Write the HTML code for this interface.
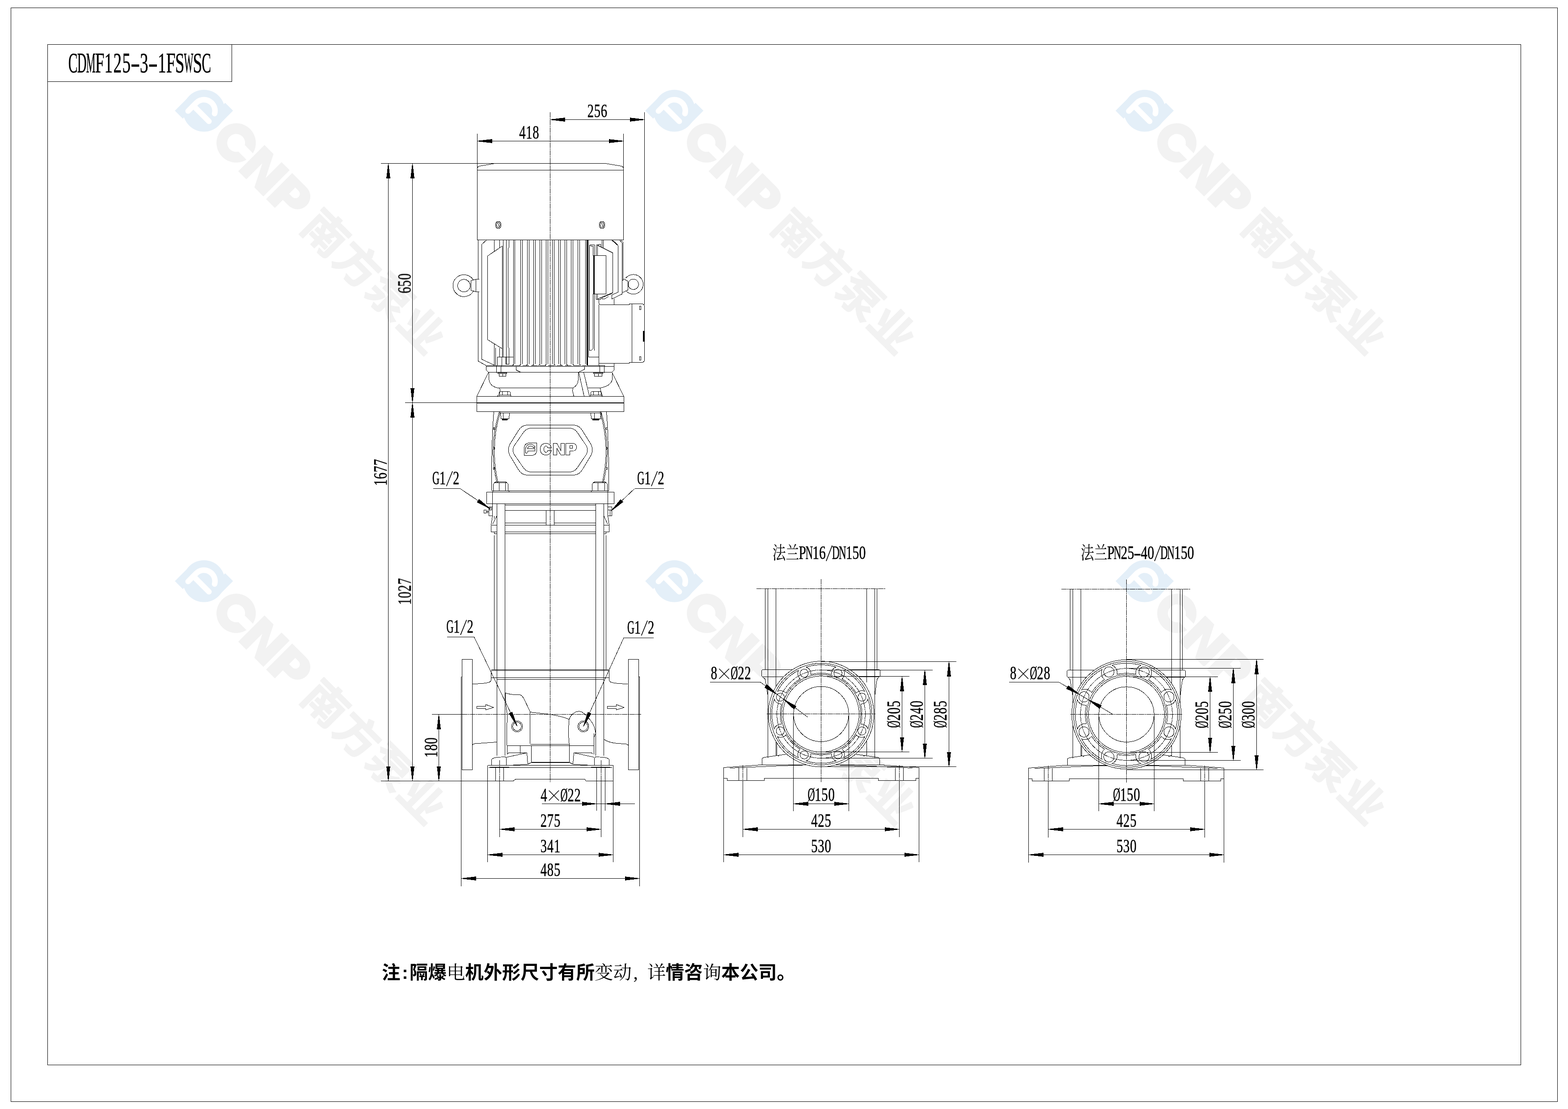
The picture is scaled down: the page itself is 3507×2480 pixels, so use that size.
<!DOCTYPE html>
<html lang="zh"><head><meta charset="utf-8"><title>CDMF125-3-1FSWSC</title>
<style>
html,body{margin:0;padding:0;background:#fff;}
body{width:3507px;height:2480px;overflow:hidden;}
svg{display:block;}
text{font-family:"Liberation Serif",serif;fill:#000;stroke:#000;stroke-width:0.45px;vector-effect:non-scaling-stroke;}
</style></head><body>
<svg width="3507" height="2480" viewBox="0 0 3507 2480">
<rect width="3507" height="2480" fill="#fff"/>
<g id="watermark">
<defs><g id="wmk"><path fill="#e4eff8" d="M-46 46V0H-21V46ZM46-46V0H21V-46Z"/><circle r="46.9" fill="#e4eff8"/><path fill="none" stroke="#fff" stroke-width="12.4" stroke-linecap="round" stroke-linejoin="round" d="M-24.6 25.6V0A24.6 24.6 0 0 1 21.3-12.3M-24.6 8.9H24.6"/><path fill="#f2f2f2" d="M144.6 10.2A44.0 44.0 0 1 1 144.6 -10.2H119.0A20.0 20.0 0 1 0 119.0 10.2Z"/><path fill="#f2f2f2" d="M150 41.5V-41.5H178.5L204 9V-41.5H229.4V41.5H201L175.5-9V41.5Z"/><path fill="#f2f2f2" fill-rule="evenodd" d="M238 41.5V-41H283.6A28.6 28.6 0 0 1 283.6 16.2H265.8V41.5ZM265.8-23H276.2A9.8 9.8 0 0 1 276.2-3.4H265.8Z"/><text x="336.3 437.9 539.5 641.1" y="36.4" transform="translate(0 36.4) scale(1 0.969) translate(0 -36.4)" style="font-family:'Liberation Sans','Noto Sans CJK SC',sans-serif;font-weight:bold;font-size:99.6px;fill:#f2f2f2;stroke:#f2f2f2;stroke-width:2.2px;stroke-linejoin:round;vector-effect:none;">南方泵业</text></g></defs>
<use href="#wmk" transform="translate(456.2 247.6) rotate(45)"/>
<use href="#wmk" transform="translate(1508.2 247.6) rotate(45)"/>
<use href="#wmk" transform="translate(2560.2 247.6) rotate(45)"/>
<use href="#wmk" transform="translate(456.2 1299.6) rotate(45)"/>
<use href="#wmk" transform="translate(1508.2 1299.6) rotate(45)"/>
<use href="#wmk" transform="translate(2560.2 1299.6) rotate(45)"/>
</g>
<g id="lines" fill="none" stroke="#000" stroke-width="1" shape-rendering="crispEdges">
<path d="M24.5 17.5H3483.5V2463.5H24.5Z"/>
<path d="M106.5 99.5H3401.5V2381.5H106.5Z"/>
<path d="M106.5 182.5L518.5 182.5"/>
<path d="M518.5 99.5L518.5 182.5"/>
<path d="M1230.5 251L1230.5 1749" stroke-dasharray="12 1 3 1"/>
<path d="M1067.5 536.5V377Q1067.5 373 1072.5 371.5L1107 365.5H1354L1389.5 371.5Q1394.5 373 1394.5 377V536.5Z"/>
<path d="M1067.5 380.5L1394.5 380.5"/>
<ellipse cx="1114.5" cy="503" rx="6.3" ry="8"/>
<ellipse cx="1114.5" cy="503" rx="4" ry="5.6"/>
<path d="M1113.5 499L1116.5 507"/>
<ellipse cx="1346.5" cy="503" rx="6.3" ry="8"/>
<ellipse cx="1346.5" cy="503" rx="4" ry="5.6"/>
<path d="M1345.5 499L1348.5 507"/>
<path d="M1069.5 536.5L1069.5 624.5"/>
<path d="M1069.5 652.5L1069.5 807.5"/>
<path d="M1069.5 807.5L1087.5 817.5"/>
<path d="M1088.5 536.5L1077.5 546.5L1077.5 803.5L1105.5 816.5"/>
<path d="M1124.5 549.5L1090.5 572.5L1090.5 759.5L1124.5 780.5"/>
<path d="M1123.5 549.5L1123.5 798.5"/>
<path d="M1125.5 536.5L1125.5 798.5"/>
<path d="M1105.5 536.5L1105.5 562.5"/>
<path d="M1117.5 536.5L1117.5 553.5"/>
<path d="M1105.5 768.5L1105.5 817.5"/>
<path d="M1108.5 777.5L1108.5 817.5"/>
<path d="M1117.5 777.5L1117.5 798.5"/>
<path d="M1132.5 536.5L1132.5 814.5"/>
<path d="M1138.5 536.5L1138.5 553.5L1136.5 555.5L1136.5 776.5L1138.5 778.5L1138.5 814.5"/>
<path d="M1132.5 814.5L1138.5 814.5"/>
<path d="M1112.5 817.5L1112.5 798.5L1148.5 798.5"/>
<path d="M1122.5 798.5L1122.5 817.5"/>
<path d="M1131.5 798.5L1131.5 814.5"/>
<path d="M1138.5 798.5L1138.5 814.5"/>
<path d="M1225.5 536.5L1225.5 813.5"/>
<path d="M1221.5 536.5L1221.5 813.5"/>
<path d="M1221.5 813.5Q1221.5 817 1217.5 817.5"/>
<path d="M1235.5 536.5L1235.5 813.5"/>
<path d="M1239.5 536.5L1239.5 813.5"/>
<path d="M1239.5 813.5Q1239.5 817 1243.5 817.5"/>
<path d="M1211.5 536.5L1211.5 813.5"/>
<path d="M1207.5 536.5L1207.5 813.5"/>
<path d="M1207.5 813.5Q1207.5 817 1203.5 817.5"/>
<path d="M1249.5 536.5L1249.5 813.5"/>
<path d="M1253.5 536.5L1253.5 813.5"/>
<path d="M1253.5 813.5Q1253.5 817 1257.5 817.5"/>
<path d="M1197.5 536.5L1197.5 813.5"/>
<path d="M1193.5 536.5L1193.5 813.5"/>
<path d="M1193.5 813.5Q1193.5 817 1189.5 817.5"/>
<path d="M1263.5 536.5L1263.5 813.5"/>
<path d="M1267.5 536.5L1267.5 813.5"/>
<path d="M1267.5 813.5Q1267.5 817 1271.5 817.5"/>
<path d="M1183.5 536.5L1183.5 813.5"/>
<path d="M1179.5 536.5L1179.5 813.5"/>
<path d="M1179.5 813.5Q1179.5 817 1175.5 817.5"/>
<path d="M1277.5 536.5L1277.5 813.5"/>
<path d="M1281.5 536.5L1281.5 813.5"/>
<path d="M1281.5 813.5Q1281.5 817 1285.5 817.5"/>
<path d="M1168.5 536.5L1168.5 813.5"/>
<path d="M1164.5 536.5L1164.5 813.5"/>
<path d="M1164.5 813.5Q1164.5 817 1160.5 817.5"/>
<path d="M1292.5 536.5L1292.5 813.5"/>
<path d="M1296.5 536.5L1296.5 813.5"/>
<path d="M1296.5 813.5Q1296.5 817 1300.5 817.5"/>
<path d="M1151.5 536.5L1151.5 813.5"/>
<path d="M1148.5 536.5L1148.5 813.5"/>
<path d="M1148.5 813.5Q1148.5 817 1144.5 817.5"/>
<path d="M1309.5 536.5L1309.5 813.5"/>
<path d="M1312.5 536.5L1312.5 813.5"/>
<path d="M1312.5 813.5Q1312.5 817 1316.5 817.5"/>
<path d="M1313.5 536.5L1313.5 817.5"/>
<path d="M1314.5 536.5L1314.5 817.5"/>
<path d="M1316.5 536.5L1316.5 798.5"/>
<path d="M1148.5 536.5L1148.5 817.5"/>
<path d="M1150 817.5H1312" stroke-dasharray="14 5"/>
<path d="M1318.5 783.5L1318.5 548.5L1321.5 547.5L1329.5 547.5L1329.5 783.5"/>
<path d="M1321.5 550.5L1326.5 550.5L1326.5 571.5L1327.5 571.5L1327.5 657.5L1326.5 657.5L1326.5 779.5L1322.5 783.5L1318.5 783.5"/>
<path d="M1321.5 547.5L1321.5 550.5"/>
<path d="M1328.5 571.5H1355.5V657.5H1328.5Z"/>
<path d="M1333.5 547.5L1333.5 571.5"/>
<path d="M1336.5 548.5L1336.5 571.5"/>
<path d="M1333.5 657.5L1333.5 669.5"/>
<path d="M1336.5 657.5L1336.5 668.5"/>
<path d="M1333.5 547.5L1339.5 547.5L1339.5 546.5L1343.5 546.5L1343.5 551.5"/>
<path d="M1336.5 548.5L1370.5 565.5L1370.5 654.5L1336.5 668.5"/>
<path d="M1333.5 669.5L1343.5 669.5L1344.5 666.5"/>
<path d="M1346.5 668.5L1346.5 665.5L1370.5 655.5"/>
<path d="M1346.5 668.5L1352.5 668.5L1361.5 662.5"/>
<path d="M1346.5 536.5L1346.5 553.5"/>
<path d="M1349.5 536.5L1349.5 555.5"/>
<path d="M1367.5 536.5L1382.5 549.5L1382.5 653.5L1368.5 659.5L1368.5 668.5L1391.5 657.5L1391.5 543.5L1385.5 536.5"/>
<path d="M1369.5 536.5L1382.5 548.5"/>
<path d="M1388.5 536.5L1393.5 541.5L1393.5 627.5"/>
<path d="M1059.3 650.3A24.5 24.5 0 1 1 1059.3 627.3"/>
<circle cx="1037.7" cy="638.8" r="14"/>
<path d="M1053.5 627.5L1064.5 624.5L1064.5 652.5L1053.5 649.5Z"/>
<path d="M1064.5 624.5L1071.5 624.5"/>
<path d="M1064.5 652.5L1071.5 652.5"/>
<path d="M1399.3 622.3A21.9 21.9 0 1 1 1399.3 649.3"/>
<circle cx="1416.6" cy="635.8" r="11.6"/>
<path d="M1392.5 627.5L1393.5 624.5L1397.5 624.5L1404.5 629.5L1404.5 648.5L1397.5 652.5L1392.5 653.5"/>
<path d="M1339.5 669.5V676Q1339.5 681.5 1345 681.5H1407V679.5H1435Q1441.5 679.5 1441.5 686V804Q1441.5 810.5 1435 810.5H1407V812.5H1339.5V681"/>
<path d="M1413.5 679.5L1413.5 810.5"/>
<path d="M1373.5 667.5L1373.5 681.5"/>
<path d="M1339.5 812.5L1339.5 817.5"/>
<path d="M1373.5 812.5L1373.5 819.5"/>
<path d="M1339.5 798.5L1316.5 798.5"/>
<path d="M1430.5 684.5H1433.5V692.5H1430.5Z"/>
<path d="M1430.5 797.5H1433.5V805.5H1430.5Z"/>
<path d="M1438 740L1441 740L1441 764L1438 764Z" fill="#000" stroke="none"/>
<path d="M1087.5 817.5L1087.5 827.5L1092.5 832.5L1368.5 832.5L1373.5 827.5L1373.5 819.5L1087.5 819.5"/>
<path d="M1087.5 817.5L1148 817.5"/>
<path d="M1314 817.5L1339.5 817.5"/>
<path d="M1154.5 819.5L1154.5 827.5L1164.5 832.5"/>
<path d="M1307.5 819.5L1307.5 825.5L1298.5 830.5L1293.5 832.5"/>
<path d="M1110.5 819.5L1110.5 833.5"/>
<path d="M1120.5 819.5L1120.5 833.5"/>
<path d="M1113.5 833.5H1133.5V835.5H1113.5Z"/>
<path d="M1116.5 835.5H1131.5V841.5H1116.5Z"/>
<path d="M1124.5 835.5L1124.5 841.5"/>
<path d="M1341.5 819.5L1341.5 833.5"/>
<path d="M1351.5 819.5L1351.5 833.5"/>
<path d="M1327.5 833.5H1348.5V835.5H1327.5Z"/>
<path d="M1329.5 835.5H1346.5V841.5H1329.5Z"/>
<path d="M1338.5 835.5L1338.5 841.5"/>
<path d="M1110.5 817.5H1121.5V819.5H1110.5Z"/>
<path d="M1340.5 817.5H1352.5V819.5H1340.5Z"/>
<path d="M1092.5 833L1066.5 886"/>
<path d="M1369 833L1395 886"/>
<path d="M1093.5 832.5V846Q1094 863 1112.5 867.5H1281.5Q1293 862 1293.5 848V832.5"/>
<path d="M1112.5 867.5L1116 868L1118.5 870.5L1118.5 873.5L1115.5 881.5L1112.5 886.5"/>
<path d="M1281.5 867.5L1280.5 874L1283.5 886.5"/>
<path d="M1369.5 832.5V848Q1367 863 1342.5 867.5H1314.5"/>
<path d="M1342.5 867.5L1343.5 874L1348 886.5"/>
<path d="M1294.5 833L1306.5 886"/>
<path d="M1305.5 833L1318.5 886"/>
<path d="M1117.5 883.5L1117.5 877.5L1119.5 875.5L1139.5 875.5L1141.5 877.5L1141.5 883.5"/>
<path d="M1123.5 875.5L1123.5 883.5"/>
<path d="M1135.5 875.5L1135.5 883.5"/>
<path d="M1116.5 883.5H1142.5V886.5H1116.5Z"/>
<path d="M1321.5 883.5L1321.5 877.5L1323.5 875.5L1342.5 875.5L1344.5 877.5L1344.5 883.5"/>
<path d="M1327.5 875.5L1327.5 883.5"/>
<path d="M1338.5 875.5L1338.5 883.5"/>
<path d="M1320.5 883.5H1345.5V886.5H1320.5Z"/>
<path d="M1066.5 886.5H1395.5V920.5H1066.5Z"/>
<path d="M1066.5 900.5L1395.5 900.5"/>
<path d="M1066.5 901.5L1395.5 901.5"/>
<path d="M1116.5 923.5L1345.5 923.5"/>
<path d="M1104.5 920.5Q1099 990 1099.5 1097.5"/>
<path d="M1356.5 920.5Q1362 990 1361.5 1097.5"/>
<path d="M1116.5 921.5Q1092 1000 1111.5 1079.5"/>
<path d="M1344.5 921.5Q1369 1000 1349.5 1079.5"/>
<path d="M1119 921.5Q1095 1000 1114 1079.5"/>
<path d="M1342 921.5Q1366 1000 1347 1079.5"/>
<path d="M1119.5 923.5L1120.5 936.5L1138.5 936.5L1139.5 923.5"/>
<path d="M1125.5 923.5L1125.5 936.5"/>
<path d="M1122 936L1136.5 936L1135 939.5L1123.5 939.5Z" fill="#000" stroke="none"/>
<path d="M1321.5 923.5L1322.5 936.5L1343.5 936.5L1344.5 923.5"/>
<path d="M1329.5 923.5L1329.5 936.5"/>
<path d="M1324 936L1341.5 936L1340 939.5L1325.5 939.5Z" fill="#000" stroke="none"/>
<path d="M1103.5 956.5H1106.5V960.5H1103.5Z"/>
<path d="M1355.5 956.5H1358.5V960.5H1355.5Z"/>
<path d="M1103.5 1000.5H1106.5V1004.5H1103.5Z"/>
<path d="M1355.5 1000.5H1358.5V1004.5H1355.5Z"/>
<path d="M1103.5 1045.5H1106.5V1049.5H1103.5Z"/>
<path d="M1355.5 1045.5H1358.5V1049.5H1355.5Z"/>
<path d="M1137.5 1004.5Q1137.5 999 1140 994L1160 962Q1167 950.5 1180 950.5H1282Q1295 950.5 1302 962L1322 994Q1324.5 999 1324.5 1004.5V1008Q1324.5 1013 1322 1018L1302 1051Q1295 1062.5 1282 1062.5H1180Q1167 1062.5 1160 1051L1140 1018Q1137.5 1013 1137.5 1008Z"/>
<path d="M1147.5 1005Q1147.5 1001 1150 997L1170 968Q1177 957.5 1188 957.5H1274Q1285 957.5 1292 968L1311.5 997Q1313.5 1001 1313.5 1005V1008Q1313.5 1012 1311.5 1016L1292 1045Q1285 1055.5 1274 1055.5H1188Q1177 1055.5 1170 1045L1150 1016Q1147.5 1012 1147.5 1008Z"/>
<path d="M1172.5 1018.5V1003Q1172.5 990.5 1185 990.5H1200.5V1006Q1200.5 1018.5 1188 1018.5Z"/>
<path d="M1175.5 1012V1005Q1176 994 1186 993.5Q1193 993.5 1196.5 999Q1196.5 1001.5 1194 1001.5Q1191 997.5 1186 997.5Q1180.5 998 1180 1003.5H1196.5V1008H1180V1012Q1178 1015.5 1175.5 1012Z"/>
<path d="M1233.5 1001.5Q1231 991.5 1221 991.5Q1208.5 992 1208.5 1004.5Q1208.5 1017 1221 1017.5Q1231 1017.5 1233.5 1007.5H1225.5Q1224 1011.5 1221 1011.5Q1216.5 1011 1216.5 1004.5Q1216.5 998 1221 997.5Q1224 997.5 1225.5 1001.5Z"/>
<path d="M1237.5 1017.5L1237.5 991.5L1245.5 991.5L1254.5 1007.5L1254.5 991.5L1262.5 991.5L1262.5 1017.5L1254.5 1017.5L1245.5 1002.5L1245.5 1017.5Z"/>
<path d="M1265.5 1017.5V991.5H1281Q1289.5 992 1289.5 1000Q1289.5 1008 1281 1008.5H1274.5V1017.5Z"/>
<path d="M1274.5 996.5H1280.5V1002.5H1274.5Z"/>
<path d="M1103.5 1096.5L1103.5 1082.5L1106.5 1079.5L1133.5 1079.5L1136.5 1082.5L1136.5 1096.5"/>
<path d="M1116.5 1080L1116.5 1096.5"/>
<path d="M1130.5 1080L1130.5 1096.5"/>
<path d="M1105.5 1079.5L1109.5 1077.5L1130.5 1077.5L1134.5 1079.5"/>
<path d="M1324.5 1096.5L1324.5 1082.5L1327.5 1079.5L1355.5 1079.5L1358.5 1082.5L1358.5 1096.5"/>
<path d="M1337.5 1080L1337.5 1096.5"/>
<path d="M1352.5 1080L1352.5 1096.5"/>
<path d="M1326.5 1079.5L1330.5 1077.5L1352.5 1077.5L1356.5 1079.5"/>
<path d="M1099.5 1097.5L1361.5 1097.5"/>
<path d="M1102.5 1097.5L1102.5 1100.5"/>
<path d="M1138.5 1097.5L1138.5 1100.5"/>
<path d="M1322.5 1097.5L1322.5 1100.5"/>
<path d="M1359.5 1097.5L1359.5 1100.5"/>
<path d="M1088.5 1100.5H1373.5V1126.5H1088.5Z"/>
<path d="M1101.5 1100.5L1101.5 1150.5"/>
<path d="M1359.5 1100.5L1359.5 1150.5"/>
<path d="M1111.5 1126.5L1111.5 1690"/>
<path d="M1129.5 1126.5L1129.5 1690"/>
<path d="M1332.5 1126.5L1332.5 1690"/>
<path d="M1350.5 1126.5L1350.5 1690"/>
<path d="M1129.5 1129.5L1332.5 1129.5"/>
<path d="M1129.5 1141.5L1332.5 1141.5"/>
<path d="M1129.5 1169.5L1221.5 1169.5"/>
<path d="M1239.5 1169.5L1332.5 1169.5"/>
<path d="M1221.5 1141.5L1221.5 1174.5"/>
<path d="M1239.5 1141.5L1239.5 1174.5"/>
<path d="M1098.5 1174.5L1111.5 1174.5"/>
<path d="M1129.5 1174.5L1332.5 1174.5"/>
<path d="M1350.5 1174.5L1362.5 1174.5"/>
<path d="M1098.5 1189.5L1111.5 1189.5"/>
<path d="M1129.5 1189.5L1332.5 1189.5"/>
<path d="M1350.5 1189.5L1362.5 1189.5"/>
<path d="M1098.5 1174.5L1098.5 1189.5"/>
<path d="M1362.5 1174.5L1362.5 1189.5"/>
<path d="M1105.5 1193.5L1111.5 1193.5"/>
<path d="M1129.5 1193.5L1332.5 1193.5"/>
<path d="M1350.5 1193.5L1355.5 1193.5"/>
<path d="M1105.5 1189.5L1105.5 1193.5"/>
<path d="M1355.5 1189.5L1355.5 1193.5"/>
<path d="M1105.5 1196.5L1105.5 1497.5"/>
<path d="M1355.5 1196.5L1355.5 1497.5"/>
<path d="M1093.5 1133.5H1101.5V1153.5H1093.5Z"/>
<path d="M1094.5 1135.5H1099.5V1140.5H1094.5Z"/>
<path d="M1082.5 1140.5H1087.5V1147.5H1082.5Z"/>
<path d="M1087.5 1144.5L1093.5 1144.5"/>
<path d="M1090.5 1140.5L1090.5 1147.5"/>
<path d="M1359.5 1133.5H1368.5V1153.5H1359.5Z"/>
<path d="M1359.5 1140.5L1368.5 1140.5"/>
<path d="M1364.5 1140.5L1364.5 1153.5"/>
<path d="M1101.5 1153.5L1098.5 1174.5"/>
<path d="M1111.5 1153.5L1102 1172"/>
<path d="M1105.5 1153.5L1105.5 1160"/>
<path d="M1359.5 1153.5L1362.5 1174.5"/>
<path d="M1350.5 1153.5L1359 1172"/>
<path d="M1098.5 1497.5L1362.5 1497.5"/>
<path d="M1098.5 1499.5L1362.5 1499.5"/>
<path d="M1098.5 1515.5L1362.5 1515.5"/>
<path d="M1111.5 1519.5L1350.5 1519.5"/>
<path d="M1033.5 1474.5H1056.5V1721.5H1033.5Z"/>
<path d="M1405.5 1474.5H1428.5V1721.5H1405.5Z"/>
<path d="M1031.5 1513.5L1031.5 1982"/>
<path d="M1430.5 1513.5L1430.5 1982"/>
<path d="M1031.5 1513.5L1033.5 1513.5"/>
<path d="M1428.5 1513.5L1430.5 1513.5"/>
<path d="M1056.5 1529.5Q1080 1529 1092 1526.5Q1098.5 1525 1098.5 1519V1499.5"/>
<path d="M1404.5 1529.5Q1381 1529 1369 1526.5Q1362.5 1525 1362.5 1519V1499.5"/>
<path d="M1056.5 1667.5Q1057 1663.5 1062 1663L1111.5 1659.5"/>
<path d="M1405.5 1667.5Q1404 1664 1398 1663.5Q1372 1662.5 1362.5 1659Q1354 1656 1350.5 1653"/>
<path d="M1130 1549Q1136 1552 1146 1553H1162Q1168 1555 1172 1563L1185.5 1591"/>
<path d="M1130 1549Q1131 1580 1134.5 1597Q1133 1640 1134.5 1686.5"/>
<path d="M1185.5 1591Q1186.5 1625 1185.5 1663.5"/>
<path d="M1185.5 1592.5L1230 1597.5Q1262 1603 1273 1609"/>
<path d="M1273 1609Q1270 1640 1273.5 1667.5"/>
<path d="M1273 1609Q1276 1598 1288 1592Q1298 1589 1304 1594Q1322 1608 1329 1625Q1331 1632 1332.5 1640L1329 1648"/>
<path d="M1185.5 1664.5L1273.5 1664.5"/>
<path d="M1134.5 1667.5L1328 1667.5"/>
<path d="M1163.5 1667.5L1163.5 1684.5"/>
<path d="M1188.5 1667.5L1188.5 1705.5"/>
<path d="M1273.5 1667.5L1273.5 1705.5"/>
<path d="M1328.5 1640L1328.5 1687"/>
<path d="M1188.5 1704.5L1273.5 1704.5"/>
<path d="M1188.5 1705.5L1273.5 1705.5"/>
<path d="M1134.5 1686.5L1138 1683.5L1178.5 1683.5L1180.5 1709L1132.5 1712"/>
<path d="M1132.5 1693.5L1178.5 1683.5"/>
<path d="M1099.5 1711.5L1099.5 1698.5L1103 1695.5L1111.5 1693.5L1130 1692.5L1132.5 1696L1132.5 1711.5"/>
<path d="M1180.5 1709L1187.5 1705.5"/>
<path d="M1326.5 1686.5L1323 1683.5L1283.5 1683.5L1281.5 1709L1329.5 1712"/>
<path d="M1329.5 1693.5L1283.5 1683.5"/>
<path d="M1362.5 1711.5L1362.5 1698.5L1359 1695.5L1350.5 1693.5L1332 1692.5L1329.5 1696L1329.5 1711.5"/>
<path d="M1281.5 1709L1274.5 1705.5"/>
<path d="M1090.5 1711.5L1371.5 1711.5"/>
<path d="M1093 1716.5L1369 1716.5"/>
<path d="M1090.5 1711.5L1090.5 1927.5"/>
<path d="M1371.5 1711.5L1371.5 1927.5"/>
<path d="M1090.5 1746.5L1148 1746.5L1153 1742.5L1308 1742.5L1310.5 1746.5L1371.5 1746.5"/>
<path d="M1096 1714.5L1139 1714.5L1139 1717L1096 1717Z" fill="#000" stroke="none"/>
<path d="M1322 1714.5L1365 1714.5L1365 1717L1322 1717Z" fill="#000" stroke="none"/>
<path d="M1108.5 1716.5L1108.5 1746.5"/>
<path d="M1126.5 1716.5L1126.5 1746.5"/>
<path d="M1117.5 1700L1117.5 1750" stroke-dasharray="12 1 3 1"/>
<path d="M1344.5 1700L1344.5 1750" stroke-dasharray="12 1 3 1"/>
<path d="M1334.5 1716.5L1334.5 1813"/>
<path d="M1353.5 1716.5L1353.5 1813"/>
<path d="M1117.5 1750L1117.5 1871.5"/>
<path d="M1344.5 1750L1344.5 1871.5"/>
<path d="M965.5 1597.5L1033.5 1597.5"/>
<path d="M1033.5 1597.5L1434 1597.5" stroke-dasharray="12 1 3 1"/>
<path d="M1066.5 1579.5L1086.5 1579.5L1086.5 1575.5L1104 1582L1086.5 1587.5L1086.5 1584.5L1066.5 1584.5Z"/>
<path d="M1358.5 1579.5L1378.5 1579.5L1378.5 1575.5L1396 1582L1378.5 1587.5L1378.5 1584.5L1358.5 1584.5Z"/>
<circle cx="1156.5" cy="1624.5" r="12.3"/>
<circle cx="1156.5" cy="1624.5" r="9.8"/>
<circle cx="1304.7" cy="1624.5" r="12.3"/>
<circle cx="1304.7" cy="1624.5" r="9.8"/>
<path d="M1067.5 299L1067.5 377"/>
<path d="M1394.5 299L1394.5 377"/>
<path d="M1067.5 315.5L1394.5 315.5"/>
<path d="M1067.5 314.9L1100.5 311.1L1100.5 319.9L1067.5 316.1Z" fill="#000" stroke="none"/>
<path d="M1394.5 316.1L1361.5 319.9L1361.5 311.1L1394.5 314.9Z" fill="#000" stroke="none"/>
<path d="M1441.5 251L1441.5 681"/>
<path d="M1230.5 267.5L1441.5 267.5"/>
<path d="M1230.5 266.9L1263.5 263.1L1263.5 271.9L1230.5 268.1Z" fill="#000" stroke="none"/>
<path d="M1441.5 268.1L1408.5 271.9L1408.5 263.1L1441.5 266.9Z" fill="#000" stroke="none"/>
<path d="M851.5 365.5L1107 365.5"/>
<path d="M905.5 900.5L1066.5 900.5"/>
<path d="M851.5 1746.5L1090.5 1746.5"/>
<path d="M868.5 365.5L868.5 1746.5"/>
<path d="M869 365.5L872.9 398.5L864.1 398.5L868 365.5Z" fill="#000" stroke="none"/>
<path d="M868 1746.5L864.1 1713.5L872.9 1713.5L869 1746.5Z" fill="#000" stroke="none"/>
<path d="M922.5 365.5L922.5 1746.5"/>
<path d="M923 365.5L926.9 398.5L918.1 398.5L922 365.5Z" fill="#000" stroke="none"/>
<path d="M922 900.5L918.1 867.5L926.9 867.5L923 900.5Z" fill="#000" stroke="none"/>
<path d="M923 900.5L926.9 933.5L918.1 933.5L922 900.5Z" fill="#000" stroke="none"/>
<path d="M922 1746.5L918.1 1713.5L926.9 1713.5L923 1746.5Z" fill="#000" stroke="none"/>
<path d="M981.5 1597.5L981.5 1746.5"/>
<path d="M982 1597.5L985.9 1630.5L977.1 1630.5L981 1597.5Z" fill="#000" stroke="none"/>
<path d="M981 1746.5L977.1 1713.5L985.9 1713.5L982 1746.5Z" fill="#000" stroke="none"/>
<path d="M969 1092.5L1029 1092.5"/>
<path d="M1029 1092.5L1096.3 1137.9"/>
<path d="M1096 1138.4L1066.5 1123L1071.3 1115.9L1096.6 1137.4Z" fill="#000" stroke="none"/>
<path d="M1419.5 1092.5L1485 1092.5"/>
<path d="M1419.5 1092.5L1367.1 1142.2"/>
<path d="M1366.7 1141.8L1388.1 1116.4L1394 1122.6L1367.5 1142.6Z" fill="#000" stroke="none"/>
<path d="M1000 1424.5L1060.5 1424.5"/>
<path d="M1060.5 1424.5L1156.7 1624.2"/>
<path d="M1156.2 1624.4L1138.1 1595.4L1145.8 1591.7L1157.2 1624Z" fill="#000" stroke="none"/>
<path d="M1395 1426.5L1462 1426.5"/>
<path d="M1395 1426.5L1304.7 1624.8"/>
<path d="M1304.2 1624.6L1314.9 1592.1L1322.7 1595.6L1305.2 1625Z" fill="#000" stroke="none"/>
<path d="M1211.5 1797.5L1419.5 1797.5"/>
<path d="M1334.5 1798L1301.5 1801.9L1301.5 1793.1L1334.5 1797Z" fill="#000" stroke="none"/>
<path d="M1353.5 1797L1386.5 1793.1L1386.5 1801.9L1353.5 1798Z" fill="#000" stroke="none"/>
<path d="M1117.5 1854.5L1344.5 1854.5"/>
<path d="M1117.5 1854L1150.5 1850.1L1150.5 1858.9L1117.5 1855Z" fill="#000" stroke="none"/>
<path d="M1344.5 1855L1311.5 1858.9L1311.5 1850.1L1344.5 1854Z" fill="#000" stroke="none"/>
<path d="M1090.5 1911.5L1371.5 1911.5"/>
<path d="M1090.5 1911L1123.5 1907.1L1123.5 1915.9L1090.5 1912Z" fill="#000" stroke="none"/>
<path d="M1371.5 1912L1338.5 1915.9L1338.5 1907.1L1371.5 1911Z" fill="#000" stroke="none"/>
<path d="M1031.5 1964.5L1430.5 1964.5"/>
<path d="M1031.5 1964L1064.5 1960.1L1064.5 1968.9L1031.5 1965Z" fill="#000" stroke="none"/>
<path d="M1430.5 1965L1397.5 1968.9L1397.5 1960.1L1430.5 1964Z" fill="#000" stroke="none"/>
<path d="M1691.7 1316.5H1981.1" stroke-dasharray="12 1 3 1"/>
<path d="M1711.5 1316L1711.5 1497.5"/>
<path d="M1717.5 1316L1717.5 1695.3"/>
<path d="M1735.5 1316L1735.5 1688.8"/>
<path d="M1938.5 1316L1938.5 1525.8"/>
<path d="M1956.5 1316L1956.5 1695.3"/>
<path d="M1961.5 1316L1961.5 1497.5"/>
<path d="M1938.5 1656.8L1938.5 1688.8"/>
<path d="M1705.5 1497.5L1966.5 1497.5L1968.5 1499.5L1968.5 1511.5L1966.5 1513.5L1705.5 1513.5L1703.5 1511.5L1703.5 1499.5Z"/>
<path d="M1705.5 1513.5L1711.5 1519L1717.5 1556.5"/>
<path d="M1966.5 1513.5L1961.5 1519L1956.5 1556.5"/>
<path d="M1704.5 1710.3L1704.5 1696.3L1708.5 1693.8L1761.5 1686.3"/>
<path d="M1967.5 1710.3L1967.5 1696.3L1963.5 1693.8L1910.5 1686.3"/>
<path d="M1704.5 1710.5L1967.5 1710.5"/>
<path d="M1735.5 1688.3L1743.5 1691.3"/>
<path d="M1737.5 1660.8L1737.5 1688.3"/>
<path d="M1938.5 1688.3L1930.5 1691.3"/>
<path d="M1704.5 1710.3L1618.5 1716.5L1618.5 1740.5L1626 1740.5L1626 1745.5L1709.5 1745.5L1709.5 1740.5L1964.5 1740.5L1964.5 1745.5L2048 1745.5L2048 1740.5L2055.5 1740.5L2055.5 1716.5L1967.5 1710.3"/>
<path d="M1632.5 1717.5L1747.5 1712.5L1810.5 1710.5"/>
<path d="M2041.5 1717.5L1926.5 1712.5L1862.5 1710.5"/>
<path d="M1652.5 1716.5L1652.5 1745.5"/>
<path d="M1670.5 1716.5L1670.5 1745.5"/>
<path d="M1661.5 1710.5L1661.5 1748.5" stroke-dasharray="12 1 3 1"/>
<path d="M1661.5 1748.5L1661.5 1871.5"/>
<path d="M2002.5 1716.5L2002.5 1745.5"/>
<path d="M2020.5 1716.5L2020.5 1745.5"/>
<path d="M2011.5 1710.5L2011.5 1748.5" stroke-dasharray="12 1 3 1"/>
<path d="M2011.5 1748.5L2011.5 1871.5"/>
<path d="M1618.5 1740.5L1618.5 1927.5"/>
<path d="M2055.5 1740.5L2055.5 1927.5"/>
<circle cx="1836.5" cy="1596.8" r="118.2" fill="#fff"/>
<circle cx="1836.5" cy="1596.8" r="113.6"/>
<circle cx="1836.5" cy="1596.8" r="98.8" stroke-dasharray="12 1 3 1"/>
<circle cx="1836.5" cy="1596.8" r="88.7"/>
<circle cx="1836.5" cy="1596.8" r="85"/>
<circle cx="1836.5" cy="1596.8" r="61.7"/>
<circle cx="1927.8" cy="1634.6" r="9.1"/>
<path d="M1941.4 1563.5A110 110 0 0 1 1941.4 1630.1A16 16 0 0 0 1925.1 1619.4A91.4 91.4 0 0 0 1925.1 1574.2A16 16 0 0 0 1941.4 1563.5Z"/>
<circle cx="1874.3" cy="1688.1" r="9.1"/>
<path d="M1934.2 1647.4A110 110 0 0 1 1887.1 1694.5A16 16 0 0 0 1883.2 1675.4A91.4 91.4 0 0 0 1915.1 1643.5A16 16 0 0 0 1934.2 1647.4Z"/>
<circle cx="1798.7" cy="1688.1" r="9.1"/>
<path d="M1869.8 1701.7A110 110 0 0 1 1803.2 1701.7A16 16 0 0 0 1813.9 1685.4A91.4 91.4 0 0 0 1859.1 1685.4A16 16 0 0 0 1869.8 1701.7Z"/>
<circle cx="1745.2" cy="1634.6" r="9.1"/>
<path d="M1785.9 1694.5A110 110 0 0 1 1738.8 1647.4A16 16 0 0 0 1757.9 1643.5A91.4 91.4 0 0 0 1789.8 1675.4A16 16 0 0 0 1785.9 1694.5Z"/>
<circle cx="1745.2" cy="1559" r="9.1"/>
<path d="M1731.6 1630.1A110 110 0 0 1 1731.6 1563.5A16 16 0 0 0 1747.9 1574.2A91.4 91.4 0 0 0 1747.9 1619.4A16 16 0 0 0 1731.6 1630.1Z"/>
<circle cx="1798.7" cy="1505.5" r="9.1"/>
<path d="M1738.8 1546.2A110 110 0 0 1 1785.9 1499.1A16 16 0 0 0 1789.8 1518.2A91.4 91.4 0 0 0 1757.9 1550.1A16 16 0 0 0 1738.8 1546.2Z"/>
<circle cx="1874.3" cy="1505.5" r="9.1"/>
<path d="M1803.2 1491.9A110 110 0 0 1 1869.8 1491.9A16 16 0 0 0 1859.1 1508.2A91.4 91.4 0 0 0 1813.9 1508.2A16 16 0 0 0 1803.2 1491.9Z"/>
<circle cx="1927.8" cy="1559" r="9.1"/>
<path d="M1887.1 1499.1A110 110 0 0 1 1934.2 1546.2A16 16 0 0 0 1915.1 1550.1A91.4 91.4 0 0 0 1883.2 1518.2A16 16 0 0 0 1887.1 1499.1Z"/>
<path d="M1836.5 1295L1836.5 1748.5" stroke-dasharray="12 1 3 1"/>
<path d="M1715.3 1596.5L1957.7 1596.5" stroke-dasharray="12 1 3 1"/>
<path d="M1587.9 1525.5L1700.9 1525.5"/>
<path d="M1700.9 1525.5L1805.8 1603.1"/>
<path d="M1737.9 1553.6L1709.8 1537.8L1715.3 1530.4L1738.6 1552.7Z" fill="#000" stroke="none"/>
<path d="M1753.2 1563.5L1781.3 1579.3L1775.9 1586.7L1752.5 1564.4Z" fill="#000" stroke="none"/>
<path d="M1841.5 1512.5L2033.7 1512.5"/>
<path d="M1841.5 1681.5L2033.7 1681.5"/>
<path d="M2017.5 1512.5L2017.5 1681"/>
<path d="M2018 1512.5L2021.9 1545.5L2013.1 1545.5L2017 1512.5Z" fill="#000" stroke="none"/>
<path d="M2017 1681.5L2013.1 1648.5L2021.9 1648.5L2018 1681.5Z" fill="#000" stroke="none"/>
<path d="M1830.5 1498.5L2086 1498.5"/>
<path d="M1830.5 1695.5L2086 1695.5"/>
<path d="M2068.5 1498.5L2068.5 1695"/>
<path d="M2069.1 1498.5L2072.9 1531.5L2064.1 1531.5L2067.9 1498.5Z" fill="#000" stroke="none"/>
<path d="M2067.9 1695.5L2064.1 1662.5L2072.9 1662.5L2069.1 1695.5Z" fill="#000" stroke="none"/>
<path d="M1836.5 1479.5L2138.6 1479.5"/>
<path d="M1836.5 1714.5L2138.6 1714.5"/>
<path d="M2122.5 1479.5L2122.5 1714"/>
<path d="M2123.1 1479.5L2126.9 1512.5L2118.1 1512.5L2121.9 1479.5Z" fill="#000" stroke="none"/>
<path d="M2121.9 1714.5L2118.1 1681.5L2126.9 1681.5L2123.1 1714.5Z" fill="#000" stroke="none"/>
<path d="M1774.5 1596.8L1774.5 1813.5"/>
<path d="M1898.5 1596.8L1898.5 1813.5"/>
<path d="M1774.5 1797.5L1898.5 1797.5"/>
<path d="M1774.5 1797L1807.5 1793.1L1807.5 1801.9L1774.5 1798Z" fill="#000" stroke="none"/>
<path d="M1898.5 1798L1865.5 1801.9L1865.5 1793.1L1898.5 1797Z" fill="#000" stroke="none"/>
<path d="M1661.5 1854.5L2011.5 1854.5"/>
<path d="M1661.5 1854L1694.5 1850.1L1694.5 1858.9L1661.5 1855Z" fill="#000" stroke="none"/>
<path d="M2011.5 1855L1978.5 1858.9L1978.5 1850.1L2011.5 1854Z" fill="#000" stroke="none"/>
<path d="M1618.5 1911.5L2055.5 1911.5"/>
<path d="M1618.5 1911L1651.5 1907.1L1651.5 1915.9L1618.5 1912Z" fill="#000" stroke="none"/>
<path d="M2055.5 1912L2022.5 1915.9L2022.5 1907.1L2055.5 1911Z" fill="#000" stroke="none"/>
<path d="M2374.2 1317.5H2663.4" stroke-dasharray="12 1 3 1"/>
<path d="M2393.5 1317.4L2393.5 1498.5"/>
<path d="M2399.5 1317.4L2399.5 1696.1"/>
<path d="M2417.5 1317.4L2417.5 1689.6"/>
<path d="M2620.5 1317.4L2620.5 1526.6"/>
<path d="M2639.5 1317.4L2639.5 1696.1"/>
<path d="M2644.5 1317.4L2644.5 1498.5"/>
<path d="M2620.5 1657.6L2620.5 1689.6"/>
<path d="M2388.5 1498.5L2649.5 1498.5L2651.5 1500.5L2651.5 1512.5L2649.5 1514.5L2388.5 1514.5L2386.5 1512.5L2386.5 1500.5Z"/>
<path d="M2388.5 1514.5L2393.5 1520L2399.5 1557.5"/>
<path d="M2649.5 1514.5L2644.5 1520L2639.5 1557.5"/>
<path d="M2387.5 1711.1L2387.5 1697.1L2391.5 1694.6L2444.5 1687.1"/>
<path d="M2650.5 1711.1L2650.5 1697.1L2646.5 1694.6L2593.5 1687.1"/>
<path d="M2387.5 1711.5L2650.5 1711.5"/>
<path d="M2417.5 1689.1L2425.5 1692.1"/>
<path d="M2419.5 1661.6L2419.5 1689.1"/>
<path d="M2620.5 1689.1L2612.5 1692.1"/>
<path d="M2387.5 1711.1L2300.5 1717.5L2300.5 1741.5L2308 1741.5L2308 1746.5L2391.5 1746.5L2391.5 1741.5L2646.5 1741.5L2646.5 1746.5L2730 1746.5L2730 1741.5L2737.5 1741.5L2737.5 1717.5L2650.5 1711.1"/>
<path d="M2314.5 1718.5L2429.5 1713.5L2493.5 1711.5"/>
<path d="M2723.5 1718.5L2608.5 1713.5L2545.5 1711.5"/>
<path d="M2335.5 1717.5L2335.5 1746.5"/>
<path d="M2353.5 1717.5L2353.5 1746.5"/>
<path d="M2344.5 1711.5L2344.5 1749.5" stroke-dasharray="12 1 3 1"/>
<path d="M2344.5 1749.5L2344.5 1872.5"/>
<path d="M2685.5 1717.5L2685.5 1746.5"/>
<path d="M2703.5 1717.5L2703.5 1746.5"/>
<path d="M2694.5 1711.5L2694.5 1749.5" stroke-dasharray="12 1 3 1"/>
<path d="M2694.5 1749.5L2694.5 1872.5"/>
<path d="M2300.5 1741.5L2300.5 1928.5"/>
<path d="M2737.5 1741.5L2737.5 1928.5"/>
<circle cx="2519.5" cy="1597.6" r="122.3" fill="#fff"/>
<circle cx="2519.5" cy="1597.6" r="118.3"/>
<circle cx="2519.5" cy="1597.6" r="102.8" stroke-dasharray="12 1 3 1"/>
<circle cx="2519.5" cy="1597.6" r="88.7"/>
<circle cx="2519.5" cy="1597.6" r="85"/>
<circle cx="2519.5" cy="1597.6" r="61.7"/>
<circle cx="2614.5" cy="1636.9" r="11.5"/>
<path d="M2629.2 1565.1A114.4 114.4 0 0 1 2629.2 1630.1A18.5 18.5 0 0 0 2609.1 1618.3A92 92 0 0 0 2609.1 1576.9A18.5 18.5 0 0 0 2629.2 1565.1Z"/>
<circle cx="2558.8" cy="1692.6" r="11.5"/>
<path d="M2620 1652.2A114.4 114.4 0 0 1 2574.1 1698.1A18.5 18.5 0 0 0 2568.3 1675.6A92 92 0 0 0 2597.5 1646.4A18.5 18.5 0 0 0 2620 1652.2Z"/>
<circle cx="2480.2" cy="1692.6" r="11.5"/>
<path d="M2552 1707.3A114.4 114.4 0 0 1 2487 1707.3A18.5 18.5 0 0 0 2498.8 1687.2A92 92 0 0 0 2540.2 1687.2A18.5 18.5 0 0 0 2552 1707.3Z"/>
<circle cx="2424.5" cy="1636.9" r="11.5"/>
<path d="M2464.9 1698.1A114.4 114.4 0 0 1 2419 1652.2A18.5 18.5 0 0 0 2441.5 1646.4A92 92 0 0 0 2470.7 1675.6A18.5 18.5 0 0 0 2464.9 1698.1Z"/>
<circle cx="2424.5" cy="1558.3" r="11.5"/>
<path d="M2409.8 1630.1A114.4 114.4 0 0 1 2409.8 1565.1A18.5 18.5 0 0 0 2429.9 1576.9A92 92 0 0 0 2429.9 1618.3A18.5 18.5 0 0 0 2409.8 1630.1Z"/>
<circle cx="2480.2" cy="1502.6" r="11.5"/>
<path d="M2419 1543A114.4 114.4 0 0 1 2464.9 1497.1A18.5 18.5 0 0 0 2470.7 1519.6A92 92 0 0 0 2441.5 1548.8A18.5 18.5 0 0 0 2419 1543Z"/>
<circle cx="2558.8" cy="1502.6" r="11.5"/>
<path d="M2487 1487.9A114.4 114.4 0 0 1 2552 1487.9A18.5 18.5 0 0 0 2540.2 1508A92 92 0 0 0 2498.8 1508A18.5 18.5 0 0 0 2487 1487.9Z"/>
<circle cx="2614.5" cy="1558.3" r="11.5"/>
<path d="M2574.1 1497.1A114.4 114.4 0 0 1 2620 1543A18.5 18.5 0 0 0 2597.5 1548.8A92 92 0 0 0 2568.3 1519.6A18.5 18.5 0 0 0 2574.1 1497.1Z"/>
<path d="M2519.5 1296.4L2519.5 1749.5" stroke-dasharray="12 1 3 1"/>
<path d="M2394.2 1597.5L2644.8 1597.5" stroke-dasharray="12 1 3 1"/>
<path d="M2257.2 1525.5L2368.5 1525.5"/>
<path d="M2368.5 1525.5L2490.1 1598.2"/>
<path d="M2414 1553.4L2384.5 1540.4L2389.2 1532.5L2414.6 1552.4Z" fill="#000" stroke="none"/>
<path d="M2434.4 1564.2L2463.9 1577.2L2459.2 1585.1L2433.8 1565.2Z" fill="#000" stroke="none"/>
<path d="M2524.5 1513.5L2723.8 1513.5"/>
<path d="M2524.5 1682.5L2723.8 1682.5"/>
<path d="M2706.5 1513.9L2706.5 1682.3"/>
<path d="M2707.1 1513.5L2710.9 1546.5L2702.1 1546.5L2705.9 1513.5Z" fill="#000" stroke="none"/>
<path d="M2705.9 1682.5L2702.1 1649.5L2710.9 1649.5L2707.1 1682.5Z" fill="#000" stroke="none"/>
<path d="M2513.5 1494.5L2775.2 1494.5"/>
<path d="M2513.5 1700.5L2775.2 1700.5"/>
<path d="M2758.5 1494L2758.5 1700.1"/>
<path d="M2759.1 1494.5L2762.9 1527.5L2754.1 1527.5L2757.9 1494.5Z" fill="#000" stroke="none"/>
<path d="M2757.9 1700.5L2754.1 1667.5L2762.9 1667.5L2759.1 1700.5Z" fill="#000" stroke="none"/>
<path d="M2519.5 1474.5L2826.4 1474.5"/>
<path d="M2519.5 1721.5L2826.4 1721.5"/>
<path d="M2810.5 1474.5L2810.5 1721.1"/>
<path d="M2811.1 1474.5L2814.9 1507.5L2806.1 1507.5L2809.9 1474.5Z" fill="#000" stroke="none"/>
<path d="M2809.9 1721.5L2806.1 1688.5L2814.9 1688.5L2811.1 1721.5Z" fill="#000" stroke="none"/>
<path d="M2457.5 1597.6L2457.5 1813.5"/>
<path d="M2581.5 1597.6L2581.5 1813.5"/>
<path d="M2457.5 1797.5L2581.5 1797.5"/>
<path d="M2457.5 1797L2490.5 1793.1L2490.5 1801.9L2457.5 1798Z" fill="#000" stroke="none"/>
<path d="M2581.5 1798L2548.5 1801.9L2548.5 1793.1L2581.5 1797Z" fill="#000" stroke="none"/>
<path d="M2344.5 1854.5L2694.5 1854.5"/>
<path d="M2344.5 1854L2377.5 1850.1L2377.5 1858.9L2344.5 1855Z" fill="#000" stroke="none"/>
<path d="M2694.5 1855L2661.5 1858.9L2661.5 1850.1L2694.5 1854Z" fill="#000" stroke="none"/>
<path d="M2300.5 1911.5L2737.5 1911.5"/>
<path d="M2300.5 1911L2333.5 1907.1L2333.5 1915.9L2300.5 1912Z" fill="#000" stroke="none"/>
<path d="M2737.5 1912L2704.5 1915.9L2704.5 1907.1L2737.5 1911Z" fill="#000" stroke="none"/>
</g>
<g id="labels" fill="#000" opacity="0.999">
<g font-size="64"><text transform="translate(163.2 162) scale(0.487 1)" text-anchor="middle">C</text><text transform="translate(183.2 162) scale(0.450 1)" text-anchor="middle">D</text><text transform="translate(203.1 162) scale(0.365 1)" text-anchor="middle">M</text><text transform="translate(223 162) scale(0.580 1)" text-anchor="middle">F</text><text transform="translate(242.9 162) scale(0.580 1)" text-anchor="middle">1</text><text transform="translate(262.8 162) scale(0.580 1)" text-anchor="middle">2</text><text transform="translate(282.7 162) scale(0.580 1)" text-anchor="middle">5</text><text transform="translate(302.6 162) scale(1.015 1)" text-anchor="middle">-</text><text transform="translate(322.4 162) scale(0.580 1)" text-anchor="middle">3</text><text transform="translate(342.3 162) scale(1.015 1)" text-anchor="middle">-</text><text transform="translate(362.2 162) scale(0.580 1)" text-anchor="middle">1</text><text transform="translate(382.1 162) scale(0.580 1)" text-anchor="middle">F</text><text transform="translate(402 162) scale(0.580 1)" text-anchor="middle">S</text><text transform="translate(421.9 162) scale(0.344 1)" text-anchor="middle">W</text><text transform="translate(441.8 162) scale(0.580 1)" text-anchor="middle">S</text><text transform="translate(461.7 162) scale(0.487 1)" text-anchor="middle">C</text></g>
<g font-size="41.5"><text transform="translate(1168.3 309.8) scale(0.690 1)" text-anchor="middle">4</text><text transform="translate(1183.4 309.8) scale(0.690 1)" text-anchor="middle">1</text><text transform="translate(1198.5 309.8) scale(0.690 1)" text-anchor="middle">8</text></g>
<g font-size="41.5"><text transform="translate(1320.8 261.9) scale(0.690 1)" text-anchor="middle">2</text><text transform="translate(1335.9 261.9) scale(0.690 1)" text-anchor="middle">5</text><text transform="translate(1351 261.9) scale(0.690 1)" text-anchor="middle">6</text></g>
<g font-size="41.5" transform="rotate(-90 865 1056.5)"><text transform="translate(842.4 1056.5) scale(0.690 1)" text-anchor="middle">1</text><text transform="translate(857.5 1056.5) scale(0.690 1)" text-anchor="middle">6</text><text transform="translate(872.5 1056.5) scale(0.690 1)" text-anchor="middle">7</text><text transform="translate(887.6 1056.5) scale(0.690 1)" text-anchor="middle">7</text></g>
<g font-size="41.5" transform="rotate(-90 918.5 633.8)"><text transform="translate(903.4 633.8) scale(0.690 1)" text-anchor="middle">6</text><text transform="translate(918.5 633.8) scale(0.690 1)" text-anchor="middle">5</text><text transform="translate(933.6 633.8) scale(0.690 1)" text-anchor="middle">0</text></g>
<g font-size="41.5" transform="rotate(-90 918.7 1322.8)"><text transform="translate(896.1 1322.8) scale(0.690 1)" text-anchor="middle">1</text><text transform="translate(911.2 1322.8) scale(0.690 1)" text-anchor="middle">0</text><text transform="translate(926.2 1322.8) scale(0.690 1)" text-anchor="middle">2</text><text transform="translate(941.3 1322.8) scale(0.690 1)" text-anchor="middle">7</text></g>
<g font-size="41.5" transform="rotate(-90 977.6 1671.6)"><text transform="translate(962.5 1671.6) scale(0.690 1)" text-anchor="middle">1</text><text transform="translate(977.6 1671.6) scale(0.690 1)" text-anchor="middle">8</text><text transform="translate(992.7 1671.6) scale(0.690 1)" text-anchor="middle">0</text></g>
<g font-size="41.5"><text transform="translate(974.9 1082.7) scale(0.535 1)" text-anchor="middle">G</text><text transform="translate(990 1082.7) scale(0.690 1)" text-anchor="middle">1</text><path d="M998.5 1087.3L1012.1 1053.7" stroke="#000" stroke-width="1.7" fill="none"/><text transform="translate(1020.1 1082.7) scale(0.690 1)" text-anchor="middle">2</text></g>
<g font-size="41.5"><text transform="translate(1433.2 1082.7) scale(0.535 1)" text-anchor="middle">G</text><text transform="translate(1448.3 1082.7) scale(0.690 1)" text-anchor="middle">1</text><path d="M1456.8 1087.3L1470.4 1053.7" stroke="#000" stroke-width="1.7" fill="none"/><text transform="translate(1478.4 1082.7) scale(0.690 1)" text-anchor="middle">2</text></g>
<g font-size="41.5"><text transform="translate(1006.4 1415.3) scale(0.535 1)" text-anchor="middle">G</text><text transform="translate(1021.5 1415.3) scale(0.690 1)" text-anchor="middle">1</text><path d="M1030 1419.9L1043.6 1386.2" stroke="#000" stroke-width="1.7" fill="none"/><text transform="translate(1051.6 1415.3) scale(0.690 1)" text-anchor="middle">2</text></g>
<g font-size="41.5"><text transform="translate(1410.9 1416.7) scale(0.535 1)" text-anchor="middle">G</text><text transform="translate(1426 1416.7) scale(0.690 1)" text-anchor="middle">1</text><path d="M1434.5 1421.3L1448.1 1387.7" stroke="#000" stroke-width="1.7" fill="none"/><text transform="translate(1456.1 1416.7) scale(0.690 1)" text-anchor="middle">2</text></g>
<g font-size="41.5"><text transform="translate(1216.3 1791.5) scale(0.690 1)" text-anchor="middle">4</text><path d="M1227.7 1767.8L1250.1 1790.3M1227.7 1790.3L1250.1 1767.8" stroke="#000" stroke-width="1.6" fill="none"/><text transform="translate(1261.5 1791.5) scale(0.535 1)" text-anchor="middle">Ø</text><text transform="translate(1276.6 1791.5) scale(0.690 1)" text-anchor="middle">2</text><text transform="translate(1291.7 1791.5) scale(0.690 1)" text-anchor="middle">2</text></g>
<g font-size="41.5"><text transform="translate(1215.9 1848.9) scale(0.690 1)" text-anchor="middle">2</text><text transform="translate(1231 1848.9) scale(0.690 1)" text-anchor="middle">7</text><text transform="translate(1246.1 1848.9) scale(0.690 1)" text-anchor="middle">5</text></g>
<g font-size="41.5"><text transform="translate(1215.9 1905.7) scale(0.690 1)" text-anchor="middle">3</text><text transform="translate(1231 1905.7) scale(0.690 1)" text-anchor="middle">4</text><text transform="translate(1246.1 1905.7) scale(0.690 1)" text-anchor="middle">1</text></g>
<g font-size="41.5"><text transform="translate(1215.9 1958.8) scale(0.690 1)" text-anchor="middle">4</text><text transform="translate(1231 1958.8) scale(0.690 1)" text-anchor="middle">8</text><text transform="translate(1246.1 1958.8) scale(0.690 1)" text-anchor="middle">5</text></g>
<g font-size="43"><text transform="translate(1727.7 1249.9) scale(0.745 1)" x="0 40" y="0" style="font-size:40px;font-family:'Liberation Serif','Noto Serif CJK SC',serif;stroke:none;">法兰</text><text transform="translate(1794.8 1249.9) scale(0.690 1)" text-anchor="middle">P</text><text transform="translate(1809.7 1249.9) scale(0.535 1)" text-anchor="middle">N</text><text transform="translate(1824.6 1249.9) scale(0.690 1)" text-anchor="middle">1</text><text transform="translate(1839.5 1249.9) scale(0.690 1)" text-anchor="middle">6</text><path d="M1847.9 1254.6L1861.3 1219.8" stroke="#000" stroke-width="1.7" fill="none"/><text transform="translate(1869.3 1249.9) scale(0.535 1)" text-anchor="middle">D</text><text transform="translate(1884.2 1249.9) scale(0.535 1)" text-anchor="middle">N</text><text transform="translate(1899.1 1249.9) scale(0.690 1)" text-anchor="middle">1</text><text transform="translate(1914 1249.9) scale(0.690 1)" text-anchor="middle">5</text><text transform="translate(1928.9 1249.9) scale(0.690 1)" text-anchor="middle">0</text></g>
<g font-size="41.5"><text transform="translate(1597 1519.2) scale(0.690 1)" text-anchor="middle">8</text><path d="M1608.4 1495.5L1630.8 1518M1608.4 1518L1630.8 1495.5" stroke="#000" stroke-width="1.6" fill="none"/><text transform="translate(1642.2 1519.2) scale(0.535 1)" text-anchor="middle">Ø</text><text transform="translate(1657.3 1519.2) scale(0.690 1)" text-anchor="middle">2</text><text transform="translate(1672.4 1519.2) scale(0.690 1)" text-anchor="middle">2</text></g>
<g font-size="41.5" transform="rotate(-90 2012.5 1596.8)"><text transform="translate(1989.9 1596.8) scale(0.535 1)" text-anchor="middle">Ø</text><text transform="translate(2005 1596.8) scale(0.690 1)" text-anchor="middle">2</text><text transform="translate(2020 1596.8) scale(0.690 1)" text-anchor="middle">0</text><text transform="translate(2035.1 1596.8) scale(0.690 1)" text-anchor="middle">5</text></g>
<g font-size="41.5" transform="rotate(-90 2063.6 1596.8)"><text transform="translate(2041 1596.8) scale(0.535 1)" text-anchor="middle">Ø</text><text transform="translate(2056.1 1596.8) scale(0.690 1)" text-anchor="middle">2</text><text transform="translate(2071.1 1596.8) scale(0.690 1)" text-anchor="middle">4</text><text transform="translate(2086.2 1596.8) scale(0.690 1)" text-anchor="middle">0</text></g>
<g font-size="41.5" transform="rotate(-90 2117.1 1596.8)"><text transform="translate(2094.5 1596.8) scale(0.535 1)" text-anchor="middle">Ø</text><text transform="translate(2109.6 1596.8) scale(0.690 1)" text-anchor="middle">2</text><text transform="translate(2124.6 1596.8) scale(0.690 1)" text-anchor="middle">8</text><text transform="translate(2139.7 1596.8) scale(0.690 1)" text-anchor="middle">5</text></g>
<g font-size="41.5"><text transform="translate(1814.4 1791.3) scale(0.535 1)" text-anchor="middle">Ø</text><text transform="translate(1829.5 1791.3) scale(0.690 1)" text-anchor="middle">1</text><text transform="translate(1844.5 1791.3) scale(0.690 1)" text-anchor="middle">5</text><text transform="translate(1859.6 1791.3) scale(0.690 1)" text-anchor="middle">0</text></g>
<g font-size="41.5"><text transform="translate(1821.4 1848.9) scale(0.690 1)" text-anchor="middle">4</text><text transform="translate(1836.5 1848.9) scale(0.690 1)" text-anchor="middle">2</text><text transform="translate(1851.6 1848.9) scale(0.690 1)" text-anchor="middle">5</text></g>
<g font-size="41.5"><text transform="translate(1821.4 1905.8) scale(0.690 1)" text-anchor="middle">5</text><text transform="translate(1836.5 1905.8) scale(0.690 1)" text-anchor="middle">3</text><text transform="translate(1851.6 1905.8) scale(0.690 1)" text-anchor="middle">0</text></g>
<g font-size="43"><text transform="translate(2417.3 1249.9) scale(0.745 1)" x="0 40" y="0" style="font-size:40px;font-family:'Liberation Serif','Noto Serif CJK SC',serif;stroke:none;">法兰</text><text transform="translate(2484.4 1249.9) scale(0.690 1)" text-anchor="middle">P</text><text transform="translate(2499.3 1249.9) scale(0.535 1)" text-anchor="middle">N</text><text transform="translate(2514.2 1249.9) scale(0.690 1)" text-anchor="middle">2</text><text transform="translate(2529.1 1249.9) scale(0.690 1)" text-anchor="middle">5</text><text transform="translate(2544 1249.9) scale(1.208 1)" text-anchor="middle">-</text><text transform="translate(2558.9 1249.9) scale(0.690 1)" text-anchor="middle">4</text><text transform="translate(2573.8 1249.9) scale(0.690 1)" text-anchor="middle">0</text><path d="M2582.3 1254.6L2595.7 1219.8" stroke="#000" stroke-width="1.7" fill="none"/><text transform="translate(2603.6 1249.9) scale(0.535 1)" text-anchor="middle">D</text><text transform="translate(2618.5 1249.9) scale(0.535 1)" text-anchor="middle">N</text><text transform="translate(2633.4 1249.9) scale(0.690 1)" text-anchor="middle">1</text><text transform="translate(2648.3 1249.9) scale(0.690 1)" text-anchor="middle">5</text><text transform="translate(2663.2 1249.9) scale(0.690 1)" text-anchor="middle">0</text></g>
<g font-size="41.5"><text transform="translate(2266.2 1519.2) scale(0.690 1)" text-anchor="middle">8</text><path d="M2277.6 1495.5L2300 1518M2277.6 1518L2300 1495.5" stroke="#000" stroke-width="1.6" fill="none"/><text transform="translate(2311.4 1519.2) scale(0.535 1)" text-anchor="middle">Ø</text><text transform="translate(2326.5 1519.2) scale(0.690 1)" text-anchor="middle">2</text><text transform="translate(2341.6 1519.2) scale(0.690 1)" text-anchor="middle">8</text></g>
<g font-size="41.5" transform="rotate(-90 2702 1597.6)"><text transform="translate(2679.4 1597.6) scale(0.535 1)" text-anchor="middle">Ø</text><text transform="translate(2694.5 1597.6) scale(0.690 1)" text-anchor="middle">2</text><text transform="translate(2709.5 1597.6) scale(0.690 1)" text-anchor="middle">0</text><text transform="translate(2724.6 1597.6) scale(0.690 1)" text-anchor="middle">5</text></g>
<g font-size="41.5" transform="rotate(-90 2753.7 1597.6)"><text transform="translate(2731.1 1597.6) scale(0.535 1)" text-anchor="middle">Ø</text><text transform="translate(2746.2 1597.6) scale(0.690 1)" text-anchor="middle">2</text><text transform="translate(2761.2 1597.6) scale(0.690 1)" text-anchor="middle">5</text><text transform="translate(2776.3 1597.6) scale(0.690 1)" text-anchor="middle">0</text></g>
<g font-size="41.5" transform="rotate(-90 2805.7 1597.6)"><text transform="translate(2783.1 1597.6) scale(0.535 1)" text-anchor="middle">Ø</text><text transform="translate(2798.2 1597.6) scale(0.690 1)" text-anchor="middle">3</text><text transform="translate(2813.2 1597.6) scale(0.690 1)" text-anchor="middle">0</text><text transform="translate(2828.3 1597.6) scale(0.690 1)" text-anchor="middle">0</text></g>
<g font-size="41.5"><text transform="translate(2497.4 1791.3) scale(0.535 1)" text-anchor="middle">Ø</text><text transform="translate(2512.5 1791.3) scale(0.690 1)" text-anchor="middle">1</text><text transform="translate(2527.5 1791.3) scale(0.690 1)" text-anchor="middle">5</text><text transform="translate(2542.6 1791.3) scale(0.690 1)" text-anchor="middle">0</text></g>
<g font-size="41.5"><text transform="translate(2504.4 1848.9) scale(0.690 1)" text-anchor="middle">4</text><text transform="translate(2519.5 1848.9) scale(0.690 1)" text-anchor="middle">2</text><text transform="translate(2534.6 1848.9) scale(0.690 1)" text-anchor="middle">5</text></g>
<g font-size="41.5"><text transform="translate(2504.4 1905.8) scale(0.690 1)" text-anchor="middle">5</text><text transform="translate(2519.5 1905.8) scale(0.690 1)" text-anchor="middle">3</text><text transform="translate(2534.6 1905.8) scale(0.690 1)" text-anchor="middle">0</text></g>
<text y="2188.6" x="854 899 916.1 957.5 998.9 1040.3 1081.7 1123.1 1164.5 1205.9 1247.3 1288.7 1330.1 1371.5 1416.4 1447.7 1489.1 1530.5 1571.9 1613.3 1654.7 1696.1 1737.5" style="font-size:41.4px;font-family:'Liberation Sans','Noto Sans CJK SC',sans-serif;font-weight:bold;stroke:none;">注:隔爆<tspan style="font-family:'Liberation Serif','Noto Serif CJK SC',serif;font-weight:normal;">电</tspan>机外形尺寸有所<tspan style="font-family:'Liberation Serif','Noto Serif CJK SC',serif;font-weight:normal;">变动,详</tspan>情咨<tspan style="font-family:'Liberation Serif','Noto Serif CJK SC',serif;font-weight:normal;">询</tspan>本公司。</text>
</g>
</svg>
</body></html>
